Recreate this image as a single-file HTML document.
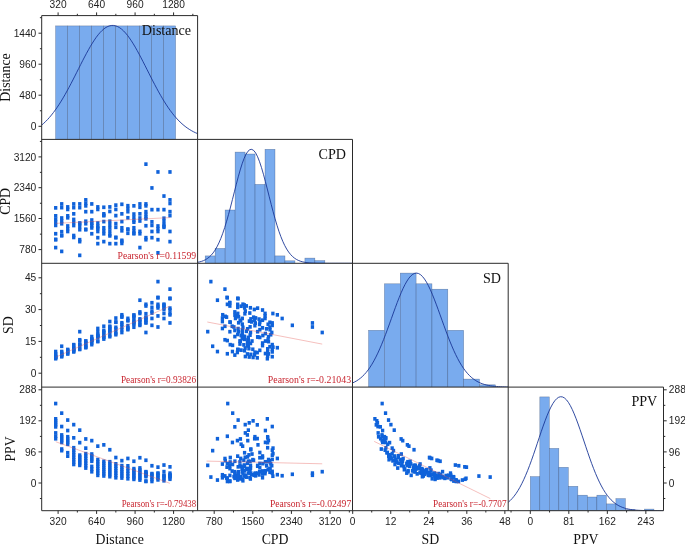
<!DOCTYPE html>
<html lang="en"><head><meta charset="utf-8"><title>Scatter matrix</title>
<style>
html,body{margin:0;padding:0;background:#fff;}
body{width:685px;height:545px;overflow:hidden;}
svg{display:block;}
.tk text{font-family:"Liberation Sans",Arial,sans-serif;font-size:10.2px;fill:#1e1e1e;}
.ax text{font-family:"Liberation Serif","Times New Roman",serif;font-size:13.8px;fill:#111;}
.pl{font-family:"Liberation Serif","Times New Roman",serif;font-size:14.1px;fill:#111;}
.pr{font-family:"Liberation Serif","Times New Roman",serif;font-size:9.7px;fill:#c8242e;}
</style></head><body>
<svg width="685" height="545" viewBox="0 0 685 545">
<rect width="685" height="545" fill="#fff"/>
<defs>
<clipPath id="c00"><rect x="41.7" y="15.6" width="155.89999999999998" height="123.80000000000001"/></clipPath>
<clipPath id="c10"><rect x="41.7" y="139.4" width="155.89999999999998" height="123.9"/></clipPath>
<clipPath id="c11"><rect x="197.6" y="139.4" width="154.9" height="123.9"/></clipPath>
<clipPath id="c20"><rect x="41.7" y="263.3" width="155.89999999999998" height="123.80000000000001"/></clipPath>
<clipPath id="c21"><rect x="197.6" y="263.3" width="154.9" height="123.80000000000001"/></clipPath>
<clipPath id="c22"><rect x="352.5" y="263.3" width="155.7" height="123.80000000000001"/></clipPath>
<clipPath id="c30"><rect x="41.7" y="387.1" width="155.89999999999998" height="123.59999999999997"/></clipPath>
<clipPath id="c31"><rect x="197.6" y="387.1" width="154.9" height="123.59999999999997"/></clipPath>
<clipPath id="c32"><rect x="352.5" y="387.1" width="155.7" height="123.59999999999997"/></clipPath>
<clipPath id="c33"><rect x="508.2" y="387.1" width="155.3" height="123.59999999999997"/></clipPath>
</defs>
<g clip-path="url(#c00)">
<g fill="#79abee" stroke="#1d3158" stroke-opacity="0.5" stroke-width="0.5">
<rect x="55.60" y="25.90" width="12.00" height="113.50"/>
<rect x="67.60" y="25.90" width="12.00" height="113.50"/>
<rect x="79.60" y="25.90" width="12.00" height="113.50"/>
<rect x="91.60" y="25.90" width="12.00" height="113.50"/>
<rect x="103.60" y="25.90" width="12.00" height="113.50"/>
<rect x="115.60" y="25.90" width="12.00" height="113.50"/>
<rect x="127.60" y="25.90" width="12.00" height="113.50"/>
<rect x="139.60" y="25.90" width="12.00" height="113.50"/>
<rect x="151.60" y="25.90" width="12.00" height="113.50"/>
<rect x="163.60" y="25.90" width="12.00" height="113.50"/>
</g>
<path d="M41.70,125.09 L43.65,123.39 L45.60,121.54 L47.55,119.54 L49.50,117.38 L51.44,115.06 L53.39,112.59 L55.34,109.95 L57.29,107.16 L59.24,104.22 L61.19,101.12 L63.14,97.89 L65.09,94.52 L67.03,91.03 L68.98,87.43 L70.93,83.74 L72.88,79.97 L74.83,76.15 L76.78,72.29 L78.73,68.42 L80.67,64.56 L82.62,60.73 L84.57,56.98 L86.52,53.31 L88.47,49.76 L90.42,46.36 L92.37,43.13 L94.32,40.10 L96.26,37.29 L98.21,34.74 L100.16,32.45 L102.11,30.46 L104.06,28.78 L106.01,27.43 L107.96,26.41 L109.91,25.74 L111.86,25.43 L113.80,25.47 L115.75,25.87 L117.70,26.62 L119.65,27.72 L121.60,29.15 L123.55,30.90 L125.50,32.97 L127.44,35.31 L129.39,37.93 L131.34,40.79 L133.29,43.87 L135.24,47.14 L137.19,50.58 L139.14,54.16 L141.09,57.85 L143.03,61.63 L144.98,65.46 L146.93,69.33 L148.88,73.20 L150.83,77.05 L152.78,80.86 L154.73,84.61 L156.68,88.28 L158.62,91.86 L160.57,95.32 L162.52,98.66 L164.47,101.86 L166.42,104.92 L168.37,107.83 L170.32,110.59 L172.27,113.18 L174.21,115.62 L176.16,117.90 L178.11,120.02 L180.06,121.99 L182.01,123.80 L183.96,125.47 L185.91,127.00 L187.86,128.40 L189.80,129.67 L191.75,130.82 L193.70,131.86 L195.65,132.79 L197.60,133.63" fill="none" stroke="#1a3796" stroke-width="0.9"/>
<text x="191.1" y="35.0" text-anchor="end" class="pl">Distance</text>
</g>
<g clip-path="url(#c11)">
<g fill="#79abee" stroke="#1d3158" stroke-opacity="0.5" stroke-width="0.5">
<rect x="205.20" y="255.90" width="9.97" height="7.40"/>
<rect x="215.17" y="248.40" width="9.97" height="14.90"/>
<rect x="225.14" y="210.00" width="9.97" height="53.30"/>
<rect x="235.11" y="152.10" width="9.97" height="111.20"/>
<rect x="245.08" y="154.00" width="9.97" height="109.30"/>
<rect x="255.05" y="184.40" width="9.97" height="78.90"/>
<rect x="265.02" y="149.30" width="9.97" height="114.00"/>
<rect x="274.99" y="255.90" width="9.97" height="7.40"/>
<rect x="284.96" y="260.80" width="9.97" height="2.50"/>
<rect x="304.90" y="258.10" width="9.97" height="5.20"/>
<rect x="314.87" y="260.60" width="9.97" height="2.70"/>
</g>
<path d="M197.60,262.31 L199.54,261.91 L201.47,261.38 L203.41,260.68 L205.34,259.76 L207.28,258.59 L209.22,257.09 L211.15,255.23 L213.09,252.94 L215.03,250.17 L216.96,246.85 L218.90,242.95 L220.84,238.43 L222.77,233.29 L224.71,227.53 L226.64,221.19 L228.58,214.33 L230.52,207.06 L232.45,199.50 L234.39,191.82 L236.32,184.19 L238.26,176.84 L240.20,169.96 L242.13,163.77 L244.07,158.48 L246.01,154.27 L247.94,151.28 L249.88,149.63 L251.81,149.37 L253.75,150.52 L255.69,153.03 L257.62,156.81 L259.56,161.73 L261.50,167.61 L263.43,174.26 L265.37,181.47 L267.31,189.02 L269.24,196.70 L271.18,204.33 L273.11,211.72 L275.05,218.74 L276.99,225.28 L278.92,231.26 L280.86,236.63 L282.80,241.38 L284.73,245.50 L286.67,249.02 L288.60,251.99 L290.54,254.45 L292.48,256.46 L294.41,258.08 L296.35,259.37 L298.28,260.37 L300.22,261.15 L302.16,261.74 L304.09,262.18 L306.03,262.50 L307.97,262.74 L309.90,262.92 L311.84,263.04 L313.77,263.12 L315.71,263.18 L317.65,263.22 L319.58,263.25 L321.52,263.27 L323.46,263.28 L325.39,263.29 L327.33,263.29 L329.26,263.30 L331.20,263.30 L333.14,263.30 L335.07,263.30 L337.01,263.30 L338.95,263.30 L340.88,263.30 L342.82,263.30 L344.75,263.30 L346.69,263.30 L348.63,263.30 L350.56,263.30 L352.50,263.30" fill="none" stroke="#1a3796" stroke-width="0.9"/>
<text x="346" y="159.4" text-anchor="end" class="pl">CPD</text>
</g>
<g clip-path="url(#c22)">
<g fill="#79abee" stroke="#1d3158" stroke-opacity="0.5" stroke-width="0.5">
<rect x="368.55" y="330.30" width="15.85" height="56.80"/>
<rect x="384.40" y="283.80" width="15.85" height="103.30"/>
<rect x="400.25" y="273.10" width="15.85" height="114.00"/>
<rect x="416.10" y="283.80" width="15.85" height="103.30"/>
<rect x="431.95" y="289.20" width="15.85" height="97.90"/>
<rect x="447.80" y="330.30" width="15.85" height="56.80"/>
<rect x="463.65" y="379.10" width="15.85" height="8.00"/>
<rect x="479.50" y="384.80" width="15.85" height="2.30"/>
</g>
<path d="M352.50,382.98 L354.45,382.07 L356.39,381.00 L358.34,379.74 L360.29,378.29 L362.23,376.61 L364.18,374.68 L366.12,372.50 L368.07,370.03 L370.02,367.27 L371.96,364.21 L373.91,360.83 L375.86,357.14 L377.80,353.15 L379.75,348.85 L381.69,344.28 L383.64,339.46 L385.59,334.42 L387.53,329.20 L389.48,323.86 L391.43,318.44 L393.37,313.03 L395.32,307.67 L397.26,302.45 L399.21,297.44 L401.16,292.72 L403.10,288.36 L405.05,284.44 L407.00,281.01 L408.94,278.14 L410.89,275.88 L412.83,274.27 L414.78,273.34 L416.73,273.11 L418.67,273.58 L420.62,274.74 L422.56,276.57 L424.51,279.04 L426.46,282.10 L428.40,285.70 L430.35,289.78 L432.30,294.27 L434.24,299.10 L436.19,304.18 L438.13,309.45 L440.08,314.84 L442.03,320.26 L443.97,325.66 L445.92,330.96 L447.87,336.13 L449.81,341.10 L451.76,345.84 L453.70,350.32 L455.65,354.52 L457.60,358.41 L459.54,362.00 L461.49,365.27 L463.44,368.23 L465.38,370.89 L467.33,373.26 L469.27,375.36 L471.22,377.20 L473.17,378.80 L475.11,380.18 L477.06,381.38 L479.01,382.39 L480.95,383.25 L482.90,383.97 L484.84,384.57 L486.79,385.07 L488.74,385.48 L490.68,385.82 L492.63,386.09 L494.58,386.31 L496.52,386.48 L498.47,386.62 L500.41,386.73 L502.36,386.82 L504.31,386.89 L506.25,386.94 L508.20,386.98" fill="none" stroke="#1a3796" stroke-width="0.9"/>
<text x="501" y="283.2" text-anchor="end" class="pl">SD</text>
</g>
<g clip-path="url(#c33)">
<g fill="#79abee" stroke="#1d3158" stroke-opacity="0.5" stroke-width="0.5">
<rect x="530.30" y="476.60" width="9.51" height="34.10"/>
<rect x="539.81" y="396.90" width="9.51" height="113.80"/>
<rect x="549.32" y="448.40" width="9.51" height="62.30"/>
<rect x="558.83" y="467.30" width="9.51" height="43.40"/>
<rect x="568.34" y="486.30" width="9.51" height="24.40"/>
<rect x="577.85" y="495.20" width="9.51" height="15.50"/>
<rect x="587.36" y="497.00" width="9.51" height="13.70"/>
<rect x="596.87" y="495.20" width="9.51" height="15.50"/>
<rect x="606.38" y="503.90" width="9.51" height="6.80"/>
<rect x="615.89" y="498.60" width="9.51" height="12.10"/>
<rect x="625.40" y="509.60" width="9.51" height="1.10"/>
<rect x="644.42" y="509.10" width="9.51" height="1.60"/>
</g>
<path d="M508.20,502.34 L510.14,500.60 L512.08,498.59 L514.02,496.28 L515.97,493.66 L517.91,490.69 L519.85,487.38 L521.79,483.71 L523.73,479.68 L525.67,475.30 L527.61,470.59 L529.55,465.57 L531.50,460.28 L533.44,454.76 L535.38,449.08 L537.32,443.29 L539.26,437.49 L541.20,431.74 L543.14,426.15 L545.08,420.79 L547.02,415.76 L548.97,411.17 L550.91,407.08 L552.85,403.58 L554.79,400.75 L556.73,398.63 L558.67,397.28 L560.61,396.72 L562.55,396.96 L564.50,398.00 L566.44,399.81 L568.38,402.37 L570.32,405.61 L572.26,409.47 L574.20,413.88 L576.14,418.74 L578.09,423.98 L580.03,429.49 L581.97,435.19 L583.91,440.98 L585.85,446.78 L587.79,452.51 L589.73,458.10 L591.67,463.49 L593.62,468.62 L595.56,473.46 L597.50,477.98 L599.44,482.15 L601.38,485.96 L603.32,489.42 L605.26,492.52 L607.20,495.28 L609.14,497.71 L611.09,499.83 L613.03,501.68 L614.97,503.26 L616.91,504.61 L618.85,505.75 L620.79,506.70 L622.73,507.49 L624.67,508.15 L626.62,508.68 L628.56,509.12 L630.50,509.47 L632.44,509.74 L634.38,509.97 L636.32,510.14 L638.26,510.28 L640.21,510.38 L642.15,510.46 L644.09,510.52 L646.03,510.57 L647.97,510.60 L649.91,510.63 L651.85,510.65 L653.79,510.66 L655.74,510.67 L657.68,510.68 L659.62,510.69 L661.56,510.69 L663.50,510.69" fill="none" stroke="#1a3796" stroke-width="0.9"/>
<text x="657.3" y="406.4" text-anchor="end" class="pl">PPV</text>
</g>
<g clip-path="url(#c10)">
<g fill="#0f62da">
<rect x="54.04" y="206.02" width="3.3" height="3.7"/>
<rect x="54.04" y="217.35" width="3.3" height="3.7"/>
<rect x="54.04" y="220.45" width="3.3" height="3.7"/>
<rect x="54.04" y="214.01" width="3.3" height="3.7"/>
<rect x="54.04" y="231.90" width="3.3" height="3.7"/>
<rect x="54.04" y="223.55" width="3.3" height="3.7"/>
<rect x="54.04" y="237.86" width="3.3" height="3.7"/>
<rect x="54.04" y="245.74" width="3.3" height="3.7"/>
<rect x="54.04" y="237.55" width="3.3" height="3.7"/>
<rect x="60.06" y="202.09" width="3.3" height="3.7"/>
<rect x="60.06" y="221.88" width="3.3" height="3.7"/>
<rect x="60.06" y="205.78" width="3.3" height="3.7"/>
<rect x="60.06" y="216.16" width="3.3" height="3.7"/>
<rect x="60.06" y="229.87" width="3.3" height="3.7"/>
<rect x="60.06" y="233.81" width="3.3" height="3.7"/>
<rect x="60.06" y="219.14" width="3.3" height="3.7"/>
<rect x="60.06" y="249.55" width="3.3" height="3.7"/>
<rect x="60.06" y="233.61" width="3.3" height="3.7"/>
<rect x="66.07" y="207.57" width="3.3" height="3.7"/>
<rect x="66.07" y="215.92" width="3.3" height="3.7"/>
<rect x="66.07" y="214.01" width="3.3" height="3.7"/>
<rect x="66.07" y="205.07" width="3.3" height="3.7"/>
<rect x="66.07" y="226.89" width="3.3" height="3.7"/>
<rect x="66.07" y="224.15" width="3.3" height="3.7"/>
<rect x="66.07" y="229.64" width="3.3" height="3.7"/>
<rect x="72.09" y="205.78" width="3.3" height="3.7"/>
<rect x="72.09" y="202.09" width="3.3" height="3.7"/>
<rect x="72.09" y="211.99" width="3.3" height="3.7"/>
<rect x="72.09" y="220.69" width="3.3" height="3.7"/>
<rect x="72.09" y="223.67" width="3.3" height="3.7"/>
<rect x="72.09" y="217.59" width="3.3" height="3.7"/>
<rect x="72.09" y="235.60" width="3.3" height="3.7"/>
<rect x="72.09" y="233.69" width="3.3" height="3.7"/>
<rect x="78.10" y="205.78" width="3.3" height="3.7"/>
<rect x="78.10" y="202.09" width="3.3" height="3.7"/>
<rect x="78.10" y="221.76" width="3.3" height="3.7"/>
<rect x="78.10" y="239.77" width="3.3" height="3.7"/>
<rect x="78.10" y="224.75" width="3.3" height="3.7"/>
<rect x="78.10" y="227.85" width="3.3" height="3.7"/>
<rect x="78.10" y="237.86" width="3.3" height="3.7"/>
<rect x="78.10" y="253.49" width="3.3" height="3.7"/>
<rect x="78.10" y="221.14" width="3.3" height="3.7"/>
<rect x="84.12" y="201.49" width="3.3" height="3.7"/>
<rect x="84.12" y="209.84" width="3.3" height="3.7"/>
<rect x="84.12" y="198.03" width="3.3" height="3.7"/>
<rect x="84.12" y="203.99" width="3.3" height="3.7"/>
<rect x="84.12" y="221.88" width="3.3" height="3.7"/>
<rect x="84.12" y="227.85" width="3.3" height="3.7"/>
<rect x="84.12" y="219.38" width="3.3" height="3.7"/>
<rect x="84.12" y="227.45" width="3.3" height="3.7"/>
<rect x="90.13" y="218.19" width="3.3" height="3.7"/>
<rect x="90.13" y="209.84" width="3.3" height="3.7"/>
<rect x="90.13" y="202.09" width="3.3" height="3.7"/>
<rect x="90.13" y="221.17" width="3.3" height="3.7"/>
<rect x="90.13" y="224.15" width="3.3" height="3.7"/>
<rect x="90.13" y="226.06" width="3.3" height="3.7"/>
<rect x="90.13" y="231.90" width="3.3" height="3.7"/>
<rect x="90.13" y="221.60" width="3.3" height="3.7"/>
<rect x="96.15" y="205.07" width="3.3" height="3.7"/>
<rect x="96.15" y="207.57" width="3.3" height="3.7"/>
<rect x="96.15" y="241.80" width="3.3" height="3.7"/>
<rect x="96.15" y="226.89" width="3.3" height="3.7"/>
<rect x="96.15" y="235.84" width="3.3" height="3.7"/>
<rect x="96.15" y="224.15" width="3.3" height="3.7"/>
<rect x="96.15" y="221.17" width="3.3" height="3.7"/>
<rect x="96.15" y="229.64" width="3.3" height="3.7"/>
<rect x="96.15" y="225.66" width="3.3" height="3.7"/>
<rect x="102.16" y="219.74" width="3.3" height="3.7"/>
<rect x="102.16" y="211.99" width="3.3" height="3.7"/>
<rect x="102.16" y="213.77" width="3.3" height="3.7"/>
<rect x="102.16" y="225.94" width="3.3" height="3.7"/>
<rect x="102.16" y="205.43" width="3.3" height="3.7"/>
<rect x="102.16" y="228.92" width="3.3" height="3.7"/>
<rect x="102.16" y="231.90" width="3.3" height="3.7"/>
<rect x="102.16" y="239.77" width="3.3" height="3.7"/>
<rect x="102.16" y="213.46" width="3.3" height="3.7"/>
<rect x="108.18" y="205.07" width="3.3" height="3.7"/>
<rect x="108.18" y="209.60" width="3.3" height="3.7"/>
<rect x="108.18" y="219.38" width="3.3" height="3.7"/>
<rect x="108.18" y="225.94" width="3.3" height="3.7"/>
<rect x="108.18" y="222.72" width="3.3" height="3.7"/>
<rect x="108.18" y="234.05" width="3.3" height="3.7"/>
<rect x="108.18" y="229.28" width="3.3" height="3.7"/>
<rect x="108.18" y="241.80" width="3.3" height="3.7"/>
<rect x="108.18" y="232.62" width="3.3" height="3.7"/>
<rect x="114.19" y="203.28" width="3.3" height="3.7"/>
<rect x="114.19" y="213.77" width="3.3" height="3.7"/>
<rect x="114.19" y="221.76" width="3.3" height="3.7"/>
<rect x="114.19" y="207.57" width="3.3" height="3.7"/>
<rect x="114.19" y="225.46" width="3.3" height="3.7"/>
<rect x="114.19" y="235.84" width="3.3" height="3.7"/>
<rect x="114.19" y="241.80" width="3.3" height="3.7"/>
<rect x="114.19" y="235.52" width="3.3" height="3.7"/>
<rect x="120.21" y="202.44" width="3.3" height="3.7"/>
<rect x="120.21" y="211.99" width="3.3" height="3.7"/>
<rect x="120.21" y="219.74" width="3.3" height="3.7"/>
<rect x="120.21" y="225.94" width="3.3" height="3.7"/>
<rect x="120.21" y="228.92" width="3.3" height="3.7"/>
<rect x="120.21" y="241.56" width="3.3" height="3.7"/>
<rect x="120.21" y="238.46" width="3.3" height="3.7"/>
<rect x="120.21" y="239.48" width="3.3" height="3.7"/>
<rect x="126.22" y="206.62" width="3.3" height="3.7"/>
<rect x="126.22" y="203.88" width="3.3" height="3.7"/>
<rect x="126.22" y="209.84" width="3.3" height="3.7"/>
<rect x="126.22" y="215.92" width="3.3" height="3.7"/>
<rect x="126.22" y="231.42" width="3.3" height="3.7"/>
<rect x="126.22" y="227.73" width="3.3" height="3.7"/>
<rect x="126.22" y="227.21" width="3.3" height="3.7"/>
<rect x="132.24" y="203.99" width="3.3" height="3.7"/>
<rect x="132.24" y="220.33" width="3.3" height="3.7"/>
<rect x="132.24" y="212.22" width="3.3" height="3.7"/>
<rect x="132.24" y="215.56" width="3.3" height="3.7"/>
<rect x="132.24" y="218.54" width="3.3" height="3.7"/>
<rect x="132.24" y="228.92" width="3.3" height="3.7"/>
<rect x="132.24" y="231.42" width="3.3" height="3.7"/>
<rect x="132.24" y="225.94" width="3.3" height="3.7"/>
<rect x="132.24" y="231.85" width="3.3" height="3.7"/>
<rect x="138.25" y="211.99" width="3.3" height="3.7"/>
<rect x="138.25" y="205.43" width="3.3" height="3.7"/>
<rect x="138.25" y="202.09" width="3.3" height="3.7"/>
<rect x="138.25" y="219.14" width="3.3" height="3.7"/>
<rect x="138.25" y="216.16" width="3.3" height="3.7"/>
<rect x="138.25" y="229.52" width="3.3" height="3.7"/>
<rect x="138.25" y="231.90" width="3.3" height="3.7"/>
<rect x="138.25" y="245.74" width="3.3" height="3.7"/>
<rect x="144.27" y="162.30" width="3.3" height="3.7"/>
<rect x="144.27" y="203.99" width="3.3" height="3.7"/>
<rect x="144.27" y="202.09" width="3.3" height="3.7"/>
<rect x="144.27" y="209.84" width="3.3" height="3.7"/>
<rect x="144.27" y="212.58" width="3.3" height="3.7"/>
<rect x="144.27" y="215.32" width="3.3" height="3.7"/>
<rect x="144.27" y="223.91" width="3.3" height="3.7"/>
<rect x="144.27" y="235.84" width="3.3" height="3.7"/>
<rect x="144.27" y="237.86" width="3.3" height="3.7"/>
<rect x="144.27" y="216.96" width="3.3" height="3.7"/>
<rect x="150.28" y="186.10" width="3.3" height="3.7"/>
<rect x="150.28" y="207.81" width="3.3" height="3.7"/>
<rect x="150.28" y="223.55" width="3.3" height="3.7"/>
<rect x="150.28" y="219.98" width="3.3" height="3.7"/>
<rect x="150.28" y="229.64" width="3.3" height="3.7"/>
<rect x="150.28" y="235.84" width="3.3" height="3.7"/>
<rect x="156.30" y="170.10" width="3.3" height="3.7"/>
<rect x="156.30" y="207.81" width="3.3" height="3.7"/>
<rect x="156.30" y="224.15" width="3.3" height="3.7"/>
<rect x="156.30" y="226.89" width="3.3" height="3.7"/>
<rect x="156.30" y="237.86" width="3.3" height="3.7"/>
<rect x="156.30" y="229.64" width="3.3" height="3.7"/>
<rect x="156.30" y="250.98" width="3.3" height="3.7"/>
<rect x="162.31" y="207.81" width="3.3" height="3.7"/>
<rect x="162.31" y="194.20" width="3.3" height="3.7"/>
<rect x="162.31" y="216.40" width="3.3" height="3.7"/>
<rect x="162.31" y="222.72" width="3.3" height="3.7"/>
<rect x="162.31" y="219.50" width="3.3" height="3.7"/>
<rect x="162.31" y="225.46" width="3.3" height="3.7"/>
<rect x="162.31" y="224.38" width="3.3" height="3.7"/>
<rect x="168.33" y="170.10" width="3.3" height="3.7"/>
<rect x="168.33" y="213.77" width="3.3" height="3.7"/>
<rect x="168.33" y="198.03" width="3.3" height="3.7"/>
<rect x="168.33" y="201.61" width="3.3" height="3.7"/>
<rect x="168.33" y="209.84" width="3.3" height="3.7"/>
<rect x="168.33" y="229.64" width="3.3" height="3.7"/>
<rect x="168.33" y="239.77" width="3.3" height="3.7"/>
</g>
<line x1="55.7" y1="223.4" x2="169.9" y2="217.6" stroke="#e2504c" stroke-width="0.5" stroke-opacity="0.72"/>
<text x="117.5" y="258.8" textLength="78.6" lengthAdjust="spacingAndGlyphs" class="pr">Pearson's r=0.11599</text>
</g>
<g clip-path="url(#c20)">
<g fill="#0f62da">
<rect x="54.04" y="356.86" width="3.3" height="3.7"/>
<rect x="54.04" y="355.55" width="3.3" height="3.7"/>
<rect x="54.04" y="355.13" width="3.3" height="3.7"/>
<rect x="54.04" y="355.97" width="3.3" height="3.7"/>
<rect x="54.04" y="353.22" width="3.3" height="3.7"/>
<rect x="54.04" y="354.67" width="3.3" height="3.7"/>
<rect x="54.04" y="351.92" width="3.3" height="3.7"/>
<rect x="54.04" y="349.70" width="3.3" height="3.7"/>
<rect x="60.06" y="354.84" width="3.3" height="3.7"/>
<rect x="60.06" y="352.13" width="3.3" height="3.7"/>
<rect x="60.06" y="354.42" width="3.3" height="3.7"/>
<rect x="60.06" y="353.04" width="3.3" height="3.7"/>
<rect x="60.06" y="350.59" width="3.3" height="3.7"/>
<rect x="60.06" y="349.69" width="3.3" height="3.7"/>
<rect x="60.06" y="352.58" width="3.3" height="3.7"/>
<rect x="60.06" y="344.41" width="3.3" height="3.7"/>
<rect x="66.07" y="351.70" width="3.3" height="3.7"/>
<rect x="66.07" y="350.41" width="3.3" height="3.7"/>
<rect x="66.07" y="352.04" width="3.3" height="3.7"/>
<rect x="66.07" y="348.28" width="3.3" height="3.7"/>
<rect x="66.07" y="348.87" width="3.3" height="3.7"/>
<rect x="66.07" y="347.63" width="3.3" height="3.7"/>
<rect x="72.09" y="349.48" width="3.3" height="3.7"/>
<rect x="72.09" y="350.02" width="3.3" height="3.7"/>
<rect x="72.09" y="348.47" width="3.3" height="3.7"/>
<rect x="72.09" y="346.79" width="3.3" height="3.7"/>
<rect x="72.09" y="346.13" width="3.3" height="3.7"/>
<rect x="72.09" y="347.43" width="3.3" height="3.7"/>
<rect x="72.09" y="342.82" width="3.3" height="3.7"/>
<rect x="72.09" y="343.43" width="3.3" height="3.7"/>
<rect x="78.10" y="347.01" width="3.3" height="3.7"/>
<rect x="78.10" y="347.61" width="3.3" height="3.7"/>
<rect x="78.10" y="343.77" width="3.3" height="3.7"/>
<rect x="78.10" y="337.94" width="3.3" height="3.7"/>
<rect x="78.10" y="343.01" width="3.3" height="3.7"/>
<rect x="78.10" y="342.15" width="3.3" height="3.7"/>
<rect x="78.10" y="338.73" width="3.3" height="3.7"/>
<rect x="78.10" y="329.80" width="3.3" height="3.7"/>
<rect x="84.12" y="345.30" width="3.3" height="3.7"/>
<rect x="84.12" y="343.75" width="3.3" height="3.7"/>
<rect x="84.12" y="345.87" width="3.3" height="3.7"/>
<rect x="84.12" y="344.86" width="3.3" height="3.7"/>
<rect x="84.12" y="340.94" width="3.3" height="3.7"/>
<rect x="84.12" y="339.19" width="3.3" height="3.7"/>
<rect x="84.12" y="341.59" width="3.3" height="3.7"/>
<rect x="84.12" y="339.32" width="3.3" height="3.7"/>
<rect x="90.13" y="339.18" width="3.3" height="3.7"/>
<rect x="90.13" y="341.21" width="3.3" height="3.7"/>
<rect x="90.13" y="342.79" width="3.3" height="3.7"/>
<rect x="90.13" y="338.35" width="3.3" height="3.7"/>
<rect x="90.13" y="337.46" width="3.3" height="3.7"/>
<rect x="90.13" y="336.84" width="3.3" height="3.7"/>
<rect x="90.13" y="334.74" width="3.3" height="3.7"/>
<rect x="90.13" y="338.23" width="3.3" height="3.7"/>
<rect x="96.15" y="339.76" width="3.3" height="3.7"/>
<rect x="96.15" y="339.20" width="3.3" height="3.7"/>
<rect x="96.15" y="326.63" width="3.3" height="3.7"/>
<rect x="96.15" y="333.64" width="3.3" height="3.7"/>
<rect x="96.15" y="329.87" width="3.3" height="3.7"/>
<rect x="96.15" y="334.60" width="3.3" height="3.7"/>
<rect x="96.15" y="335.57" width="3.3" height="3.7"/>
<rect x="96.15" y="332.59" width="3.3" height="3.7"/>
<rect x="96.15" y="334.08" width="3.3" height="3.7"/>
<rect x="102.16" y="333.27" width="3.3" height="3.7"/>
<rect x="102.16" y="335.56" width="3.3" height="3.7"/>
<rect x="102.16" y="335.07" width="3.3" height="3.7"/>
<rect x="102.16" y="331.08" width="3.3" height="3.7"/>
<rect x="102.16" y="337.21" width="3.3" height="3.7"/>
<rect x="102.16" y="329.88" width="3.3" height="3.7"/>
<rect x="102.16" y="328.58" width="3.3" height="3.7"/>
<rect x="102.16" y="324.43" width="3.3" height="3.7"/>
<rect x="108.18" y="334.84" width="3.3" height="3.7"/>
<rect x="108.18" y="333.65" width="3.3" height="3.7"/>
<rect x="108.18" y="330.65" width="3.3" height="3.7"/>
<rect x="108.18" y="328.18" width="3.3" height="3.7"/>
<rect x="108.18" y="329.44" width="3.3" height="3.7"/>
<rect x="108.18" y="324.40" width="3.3" height="3.7"/>
<rect x="108.18" y="326.74" width="3.3" height="3.7"/>
<rect x="108.18" y="319.69" width="3.3" height="3.7"/>
<rect x="108.18" y="325.14" width="3.3" height="3.7"/>
<rect x="114.19" y="332.85" width="3.3" height="3.7"/>
<rect x="114.19" y="329.84" width="3.3" height="3.7"/>
<rect x="114.19" y="327.00" width="3.3" height="3.7"/>
<rect x="114.19" y="331.70" width="3.3" height="3.7"/>
<rect x="114.19" y="325.48" width="3.3" height="3.7"/>
<rect x="114.19" y="320.21" width="3.3" height="3.7"/>
<rect x="114.19" y="316.23" width="3.3" height="3.7"/>
<rect x="114.19" y="320.40" width="3.3" height="3.7"/>
<rect x="120.21" y="330.65" width="3.3" height="3.7"/>
<rect x="120.21" y="327.82" width="3.3" height="3.7"/>
<rect x="120.21" y="325.03" width="3.3" height="3.7"/>
<rect x="120.21" y="322.37" width="3.3" height="3.7"/>
<rect x="120.21" y="320.92" width="3.3" height="3.7"/>
<rect x="120.21" y="312.95" width="3.3" height="3.7"/>
<rect x="120.21" y="315.25" width="3.3" height="3.7"/>
<rect x="120.21" y="314.52" width="3.3" height="3.7"/>
<rect x="126.22" y="327.00" width="3.3" height="3.7"/>
<rect x="126.22" y="327.82" width="3.3" height="3.7"/>
<rect x="126.22" y="325.97" width="3.3" height="3.7"/>
<rect x="126.22" y="323.81" width="3.3" height="3.7"/>
<rect x="126.22" y="316.54" width="3.3" height="3.7"/>
<rect x="126.22" y="318.57" width="3.3" height="3.7"/>
<rect x="126.22" y="318.83" width="3.3" height="3.7"/>
<rect x="132.24" y="325.35" width="3.3" height="3.7"/>
<rect x="132.24" y="319.28" width="3.3" height="3.7"/>
<rect x="132.24" y="322.57" width="3.3" height="3.7"/>
<rect x="132.24" y="321.29" width="3.3" height="3.7"/>
<rect x="132.24" y="320.06" width="3.3" height="3.7"/>
<rect x="132.24" y="314.95" width="3.3" height="3.7"/>
<rect x="132.24" y="313.47" width="3.3" height="3.7"/>
<rect x="132.24" y="316.57" width="3.3" height="3.7"/>
<rect x="132.24" y="313.21" width="3.3" height="3.7"/>
<rect x="138.25" y="320.08" width="3.3" height="3.7"/>
<rect x="138.25" y="322.44" width="3.3" height="3.7"/>
<rect x="138.25" y="323.52" width="3.3" height="3.7"/>
<rect x="138.25" y="317.07" width="3.3" height="3.7"/>
<rect x="138.25" y="318.39" width="3.3" height="3.7"/>
<rect x="138.25" y="311.60" width="3.3" height="3.7"/>
<rect x="138.25" y="310.10" width="3.3" height="3.7"/>
<rect x="138.25" y="298.35" width="3.3" height="3.7"/>
<rect x="144.27" y="330.64" width="3.3" height="3.7"/>
<rect x="144.27" y="320.47" width="3.3" height="3.7"/>
<rect x="144.27" y="321.11" width="3.3" height="3.7"/>
<rect x="144.27" y="318.34" width="3.3" height="3.7"/>
<rect x="144.27" y="317.25" width="3.3" height="3.7"/>
<rect x="144.27" y="316.09" width="3.3" height="3.7"/>
<rect x="144.27" y="311.90" width="3.3" height="3.7"/>
<rect x="144.27" y="304.12" width="3.3" height="3.7"/>
<rect x="144.27" y="302.47" width="3.3" height="3.7"/>
<rect x="144.27" y="315.36" width="3.3" height="3.7"/>
<rect x="150.28" y="323.48" width="3.3" height="3.7"/>
<rect x="150.28" y="316.61" width="3.3" height="3.7"/>
<rect x="150.28" y="309.26" width="3.3" height="3.7"/>
<rect x="150.28" y="311.18" width="3.3" height="3.7"/>
<rect x="150.28" y="305.51" width="3.3" height="3.7"/>
<rect x="150.28" y="300.90" width="3.3" height="3.7"/>
<rect x="156.30" y="325.15" width="3.3" height="3.7"/>
<rect x="156.30" y="314.10" width="3.3" height="3.7"/>
<rect x="156.30" y="306.06" width="3.3" height="3.7"/>
<rect x="156.30" y="304.35" width="3.3" height="3.7"/>
<rect x="156.30" y="295.88" width="3.3" height="3.7"/>
<rect x="156.30" y="302.50" width="3.3" height="3.7"/>
<rect x="156.30" y="279.76" width="3.3" height="3.7"/>
<rect x="156.30" y="295.60" width="3.3" height="3.7"/>
<rect x="162.31" y="311.60" width="3.3" height="3.7"/>
<rect x="162.31" y="316.64" width="3.3" height="3.7"/>
<rect x="162.31" y="307.60" width="3.3" height="3.7"/>
<rect x="162.31" y="304.09" width="3.3" height="3.7"/>
<rect x="162.31" y="305.95" width="3.3" height="3.7"/>
<rect x="162.31" y="302.37" width="3.3" height="3.7"/>
<rect x="162.31" y="303.07" width="3.3" height="3.7"/>
<rect x="168.33" y="321.10" width="3.3" height="3.7"/>
<rect x="168.33" y="306.29" width="3.3" height="3.7"/>
<rect x="168.33" y="313.00" width="3.3" height="3.7"/>
<rect x="168.33" y="311.66" width="3.3" height="3.7"/>
<rect x="168.33" y="308.18" width="3.3" height="3.7"/>
<rect x="168.33" y="296.49" width="3.3" height="3.7"/>
<rect x="168.33" y="287.30" width="3.3" height="3.7"/>
<rect x="168.33" y="296.77" width="3.3" height="3.7"/>
</g>
<line x1="55.7" y1="357.2" x2="169.9" y2="306.1" stroke="#e2504c" stroke-width="0.5" stroke-opacity="0.72"/>
<text x="120.9" y="382.8" textLength="75.2" lengthAdjust="spacingAndGlyphs" class="pr">Pearson's r=0.93826</text>
</g>
<g clip-path="url(#c30)">
<g fill="#0f62da">
<rect x="54.04" y="417.00" width="3.3" height="3.7"/>
<rect x="54.04" y="419.00" width="3.3" height="3.7"/>
<rect x="54.04" y="421.00" width="3.3" height="3.7"/>
<rect x="54.04" y="423.00" width="3.3" height="3.7"/>
<rect x="54.04" y="425.00" width="3.3" height="3.7"/>
<rect x="54.04" y="431.10" width="3.3" height="3.7"/>
<rect x="54.04" y="434.40" width="3.3" height="3.7"/>
<rect x="54.04" y="436.90" width="3.3" height="3.7"/>
<rect x="54.04" y="401.70" width="3.3" height="3.7"/>
<rect x="60.06" y="424.70" width="3.3" height="3.7"/>
<rect x="60.06" y="433.10" width="3.3" height="3.7"/>
<rect x="60.06" y="434.98" width="3.3" height="3.7"/>
<rect x="60.06" y="436.85" width="3.3" height="3.7"/>
<rect x="60.06" y="438.73" width="3.3" height="3.7"/>
<rect x="60.06" y="440.60" width="3.3" height="3.7"/>
<rect x="60.06" y="447.20" width="3.3" height="3.7"/>
<rect x="60.06" y="448.80" width="3.3" height="3.7"/>
<rect x="60.06" y="411.30" width="3.3" height="3.7"/>
<rect x="66.07" y="428.70" width="3.3" height="3.7"/>
<rect x="66.07" y="434.90" width="3.3" height="3.7"/>
<rect x="66.07" y="436.77" width="3.3" height="3.7"/>
<rect x="66.07" y="438.65" width="3.3" height="3.7"/>
<rect x="66.07" y="440.52" width="3.3" height="3.7"/>
<rect x="66.07" y="442.40" width="3.3" height="3.7"/>
<rect x="66.07" y="450.90" width="3.3" height="3.7"/>
<rect x="66.07" y="454.30" width="3.3" height="3.7"/>
<rect x="66.07" y="418.20" width="3.3" height="3.7"/>
<rect x="72.09" y="436.00" width="3.3" height="3.7"/>
<rect x="72.09" y="445.90" width="3.3" height="3.7"/>
<rect x="72.09" y="448.29" width="3.3" height="3.7"/>
<rect x="72.09" y="450.67" width="3.3" height="3.7"/>
<rect x="72.09" y="453.06" width="3.3" height="3.7"/>
<rect x="72.09" y="455.44" width="3.3" height="3.7"/>
<rect x="72.09" y="457.83" width="3.3" height="3.7"/>
<rect x="72.09" y="460.21" width="3.3" height="3.7"/>
<rect x="72.09" y="462.60" width="3.3" height="3.7"/>
<rect x="72.09" y="422.80" width="3.3" height="3.7"/>
<rect x="78.10" y="440.80" width="3.3" height="3.7"/>
<rect x="78.10" y="453.30" width="3.3" height="3.7"/>
<rect x="78.10" y="455.00" width="3.3" height="3.7"/>
<rect x="78.10" y="456.70" width="3.3" height="3.7"/>
<rect x="78.10" y="458.40" width="3.3" height="3.7"/>
<rect x="78.10" y="460.10" width="3.3" height="3.7"/>
<rect x="78.10" y="461.80" width="3.3" height="3.7"/>
<rect x="78.10" y="463.50" width="3.3" height="3.7"/>
<rect x="78.10" y="428.30" width="3.3" height="3.7"/>
<rect x="84.12" y="446.30" width="3.3" height="3.7"/>
<rect x="84.12" y="451.80" width="3.3" height="3.7"/>
<rect x="84.12" y="454.20" width="3.3" height="3.7"/>
<rect x="84.12" y="456.60" width="3.3" height="3.7"/>
<rect x="84.12" y="459.00" width="3.3" height="3.7"/>
<rect x="84.12" y="461.40" width="3.3" height="3.7"/>
<rect x="84.12" y="463.80" width="3.3" height="3.7"/>
<rect x="84.12" y="466.20" width="3.3" height="3.7"/>
<rect x="84.12" y="437.10" width="3.3" height="3.7"/>
<rect x="90.13" y="452.20" width="3.3" height="3.7"/>
<rect x="90.13" y="454.00" width="3.3" height="3.7"/>
<rect x="90.13" y="455.80" width="3.3" height="3.7"/>
<rect x="90.13" y="457.60" width="3.3" height="3.7"/>
<rect x="90.13" y="459.40" width="3.3" height="3.7"/>
<rect x="90.13" y="464.60" width="3.3" height="3.7"/>
<rect x="90.13" y="467.25" width="3.3" height="3.7"/>
<rect x="90.13" y="469.90" width="3.3" height="3.7"/>
<rect x="90.13" y="438.80" width="3.3" height="3.7"/>
<rect x="96.15" y="457.70" width="3.3" height="3.7"/>
<rect x="96.15" y="459.96" width="3.3" height="3.7"/>
<rect x="96.15" y="462.21" width="3.3" height="3.7"/>
<rect x="96.15" y="464.47" width="3.3" height="3.7"/>
<rect x="96.15" y="466.73" width="3.3" height="3.7"/>
<rect x="96.15" y="468.99" width="3.3" height="3.7"/>
<rect x="96.15" y="471.24" width="3.3" height="3.7"/>
<rect x="96.15" y="473.50" width="3.3" height="3.7"/>
<rect x="96.15" y="444.30" width="3.3" height="3.7"/>
<rect x="102.16" y="459.50" width="3.3" height="3.7"/>
<rect x="102.16" y="461.59" width="3.3" height="3.7"/>
<rect x="102.16" y="463.67" width="3.3" height="3.7"/>
<rect x="102.16" y="465.76" width="3.3" height="3.7"/>
<rect x="102.16" y="467.84" width="3.3" height="3.7"/>
<rect x="102.16" y="469.93" width="3.3" height="3.7"/>
<rect x="102.16" y="472.01" width="3.3" height="3.7"/>
<rect x="102.16" y="474.10" width="3.3" height="3.7"/>
<rect x="102.16" y="443.00" width="3.3" height="3.7"/>
<rect x="108.18" y="459.90" width="3.3" height="3.7"/>
<rect x="108.18" y="461.76" width="3.3" height="3.7"/>
<rect x="108.18" y="463.62" width="3.3" height="3.7"/>
<rect x="108.18" y="465.49" width="3.3" height="3.7"/>
<rect x="108.18" y="467.35" width="3.3" height="3.7"/>
<rect x="108.18" y="469.21" width="3.3" height="3.7"/>
<rect x="108.18" y="471.07" width="3.3" height="3.7"/>
<rect x="108.18" y="472.94" width="3.3" height="3.7"/>
<rect x="108.18" y="474.80" width="3.3" height="3.7"/>
<rect x="108.18" y="447.90" width="3.3" height="3.7"/>
<rect x="114.19" y="462.00" width="3.3" height="3.7"/>
<rect x="114.19" y="464.32" width="3.3" height="3.7"/>
<rect x="114.19" y="466.63" width="3.3" height="3.7"/>
<rect x="114.19" y="468.95" width="3.3" height="3.7"/>
<rect x="114.19" y="471.27" width="3.3" height="3.7"/>
<rect x="114.19" y="473.58" width="3.3" height="3.7"/>
<rect x="114.19" y="475.90" width="3.3" height="3.7"/>
<rect x="114.19" y="455.70" width="3.3" height="3.7"/>
<rect x="120.21" y="463.80" width="3.3" height="3.7"/>
<rect x="120.21" y="465.87" width="3.3" height="3.7"/>
<rect x="120.21" y="467.93" width="3.3" height="3.7"/>
<rect x="120.21" y="470.00" width="3.3" height="3.7"/>
<rect x="120.21" y="472.07" width="3.3" height="3.7"/>
<rect x="120.21" y="474.13" width="3.3" height="3.7"/>
<rect x="120.21" y="476.20" width="3.3" height="3.7"/>
<rect x="120.21" y="458.80" width="3.3" height="3.7"/>
<rect x="126.22" y="464.00" width="3.3" height="3.7"/>
<rect x="126.22" y="466.58" width="3.3" height="3.7"/>
<rect x="126.22" y="469.16" width="3.3" height="3.7"/>
<rect x="126.22" y="471.74" width="3.3" height="3.7"/>
<rect x="126.22" y="474.32" width="3.3" height="3.7"/>
<rect x="126.22" y="476.90" width="3.3" height="3.7"/>
<rect x="126.22" y="456.60" width="3.3" height="3.7"/>
<rect x="132.24" y="466.80" width="3.3" height="3.7"/>
<rect x="132.24" y="468.33" width="3.3" height="3.7"/>
<rect x="132.24" y="469.86" width="3.3" height="3.7"/>
<rect x="132.24" y="471.39" width="3.3" height="3.7"/>
<rect x="132.24" y="472.91" width="3.3" height="3.7"/>
<rect x="132.24" y="474.44" width="3.3" height="3.7"/>
<rect x="132.24" y="475.97" width="3.3" height="3.7"/>
<rect x="132.24" y="477.50" width="3.3" height="3.7"/>
<rect x="132.24" y="459.40" width="3.3" height="3.7"/>
<rect x="138.25" y="466.10" width="3.3" height="3.7"/>
<rect x="138.25" y="467.83" width="3.3" height="3.7"/>
<rect x="138.25" y="469.56" width="3.3" height="3.7"/>
<rect x="138.25" y="471.29" width="3.3" height="3.7"/>
<rect x="138.25" y="473.01" width="3.3" height="3.7"/>
<rect x="138.25" y="474.74" width="3.3" height="3.7"/>
<rect x="138.25" y="476.47" width="3.3" height="3.7"/>
<rect x="138.25" y="478.20" width="3.3" height="3.7"/>
<rect x="138.25" y="455.90" width="3.3" height="3.7"/>
<rect x="144.27" y="469.84" width="3.3" height="3.7"/>
<rect x="144.27" y="470.38" width="3.3" height="3.7"/>
<rect x="144.27" y="471.27" width="3.3" height="3.7"/>
<rect x="144.27" y="472.15" width="3.3" height="3.7"/>
<rect x="144.27" y="473.03" width="3.3" height="3.7"/>
<rect x="144.27" y="473.92" width="3.3" height="3.7"/>
<rect x="144.27" y="474.80" width="3.3" height="3.7"/>
<rect x="144.27" y="479.20" width="3.3" height="3.7"/>
<rect x="144.27" y="479.60" width="3.3" height="3.7"/>
<rect x="144.27" y="458.40" width="3.3" height="3.7"/>
<rect x="150.28" y="472.43" width="3.3" height="3.7"/>
<rect x="150.28" y="471.76" width="3.3" height="3.7"/>
<rect x="150.28" y="473.72" width="3.3" height="3.7"/>
<rect x="150.28" y="475.68" width="3.3" height="3.7"/>
<rect x="150.28" y="477.64" width="3.3" height="3.7"/>
<rect x="150.28" y="479.60" width="3.3" height="3.7"/>
<rect x="150.28" y="463.90" width="3.3" height="3.7"/>
<rect x="156.30" y="471.29" width="3.3" height="3.7"/>
<rect x="156.30" y="471.77" width="3.3" height="3.7"/>
<rect x="156.30" y="473.33" width="3.3" height="3.7"/>
<rect x="156.30" y="474.90" width="3.3" height="3.7"/>
<rect x="156.30" y="476.47" width="3.3" height="3.7"/>
<rect x="156.30" y="478.03" width="3.3" height="3.7"/>
<rect x="156.30" y="465.30" width="3.3" height="3.7"/>
<rect x="162.31" y="469.80" width="3.3" height="3.7"/>
<rect x="162.31" y="473.89" width="3.3" height="3.7"/>
<rect x="162.31" y="473.44" width="3.3" height="3.7"/>
<rect x="162.31" y="475.26" width="3.3" height="3.7"/>
<rect x="162.31" y="477.08" width="3.3" height="3.7"/>
<rect x="162.31" y="478.90" width="3.3" height="3.7"/>
<rect x="162.31" y="463.20" width="3.3" height="3.7"/>
<rect x="168.33" y="473.40" width="3.3" height="3.7"/>
<rect x="168.33" y="471.32" width="3.3" height="3.7"/>
<rect x="168.33" y="472.83" width="3.3" height="3.7"/>
<rect x="168.33" y="474.35" width="3.3" height="3.7"/>
<rect x="168.33" y="475.87" width="3.3" height="3.7"/>
<rect x="168.33" y="477.38" width="3.3" height="3.7"/>
<rect x="168.33" y="474.21" width="3.3" height="3.7"/>
<rect x="168.33" y="465.00" width="3.3" height="3.7"/>
</g>
<line x1="55.7" y1="441.7" x2="169.9" y2="483.3" stroke="#e2504c" stroke-width="0.5" stroke-opacity="0.72"/>
<text x="121.7" y="506.8" textLength="74.4" lengthAdjust="spacingAndGlyphs" class="pr">Pearson's r=-0.79438</text>
</g>
<g clip-path="url(#c21)">
<g fill="#0f62da">
<rect x="265.68" y="356.86" width="3.3" height="3.7"/>
<rect x="251.45" y="355.55" width="3.3" height="3.7"/>
<rect x="247.56" y="355.13" width="3.3" height="3.7"/>
<rect x="255.64" y="355.97" width="3.3" height="3.7"/>
<rect x="233.18" y="353.22" width="3.3" height="3.7"/>
<rect x="243.66" y="354.67" width="3.3" height="3.7"/>
<rect x="225.69" y="351.92" width="3.3" height="3.7"/>
<rect x="215.81" y="349.70" width="3.3" height="3.7"/>
<rect x="270.62" y="354.84" width="3.3" height="3.7"/>
<rect x="245.76" y="352.13" width="3.3" height="3.7"/>
<rect x="265.98" y="354.42" width="3.3" height="3.7"/>
<rect x="252.95" y="353.04" width="3.3" height="3.7"/>
<rect x="235.73" y="350.59" width="3.3" height="3.7"/>
<rect x="230.79" y="349.69" width="3.3" height="3.7"/>
<rect x="249.21" y="352.58" width="3.3" height="3.7"/>
<rect x="211.02" y="344.41" width="3.3" height="3.7"/>
<rect x="263.73" y="351.70" width="3.3" height="3.7"/>
<rect x="253.25" y="350.41" width="3.3" height="3.7"/>
<rect x="255.64" y="350.73" width="3.3" height="3.7"/>
<rect x="266.88" y="352.04" width="3.3" height="3.7"/>
<rect x="239.47" y="348.28" width="3.3" height="3.7"/>
<rect x="242.92" y="348.87" width="3.3" height="3.7"/>
<rect x="236.03" y="347.63" width="3.3" height="3.7"/>
<rect x="236.50" y="347.72" width="3.3" height="3.7"/>
<rect x="265.98" y="349.48" width="3.3" height="3.7"/>
<rect x="270.62" y="350.02" width="3.3" height="3.7"/>
<rect x="258.19" y="348.47" width="3.3" height="3.7"/>
<rect x="247.26" y="346.79" width="3.3" height="3.7"/>
<rect x="243.51" y="346.13" width="3.3" height="3.7"/>
<rect x="251.15" y="347.43" width="3.3" height="3.7"/>
<rect x="228.54" y="342.82" width="3.3" height="3.7"/>
<rect x="230.94" y="343.43" width="3.3" height="3.7"/>
<rect x="265.98" y="347.01" width="3.3" height="3.7"/>
<rect x="270.62" y="347.61" width="3.3" height="3.7"/>
<rect x="245.91" y="343.77" width="3.3" height="3.7"/>
<rect x="223.30" y="337.94" width="3.3" height="3.7"/>
<rect x="242.17" y="343.01" width="3.3" height="3.7"/>
<rect x="238.27" y="342.15" width="3.3" height="3.7"/>
<rect x="225.69" y="338.73" width="3.3" height="3.7"/>
<rect x="206.08" y="329.80" width="3.3" height="3.7"/>
<rect x="246.70" y="343.92" width="3.3" height="3.7"/>
<rect x="271.37" y="345.30" width="3.3" height="3.7"/>
<rect x="260.89" y="343.75" width="3.3" height="3.7"/>
<rect x="275.71" y="345.87" width="3.3" height="3.7"/>
<rect x="268.22" y="344.86" width="3.3" height="3.7"/>
<rect x="245.76" y="340.94" width="3.3" height="3.7"/>
<rect x="238.27" y="339.19" width="3.3" height="3.7"/>
<rect x="248.91" y="341.59" width="3.3" height="3.7"/>
<rect x="238.77" y="339.32" width="3.3" height="3.7"/>
<rect x="250.40" y="339.18" width="3.3" height="3.7"/>
<rect x="260.89" y="341.21" width="3.3" height="3.7"/>
<rect x="270.62" y="342.79" width="3.3" height="3.7"/>
<rect x="246.66" y="338.35" width="3.3" height="3.7"/>
<rect x="242.92" y="337.46" width="3.3" height="3.7"/>
<rect x="240.52" y="336.84" width="3.3" height="3.7"/>
<rect x="233.18" y="334.74" width="3.3" height="3.7"/>
<rect x="246.12" y="338.23" width="3.3" height="3.7"/>
<rect x="266.88" y="339.76" width="3.3" height="3.7"/>
<rect x="263.73" y="339.20" width="3.3" height="3.7"/>
<rect x="220.75" y="326.63" width="3.3" height="3.7"/>
<rect x="239.47" y="333.64" width="3.3" height="3.7"/>
<rect x="228.24" y="329.87" width="3.3" height="3.7"/>
<rect x="242.92" y="334.60" width="3.3" height="3.7"/>
<rect x="246.66" y="335.57" width="3.3" height="3.7"/>
<rect x="236.03" y="332.59" width="3.3" height="3.7"/>
<rect x="241.02" y="334.08" width="3.3" height="3.7"/>
<rect x="248.46" y="333.27" width="3.3" height="3.7"/>
<rect x="258.19" y="335.56" width="3.3" height="3.7"/>
<rect x="255.94" y="335.07" width="3.3" height="3.7"/>
<rect x="240.67" y="331.08" width="3.3" height="3.7"/>
<rect x="266.43" y="337.21" width="3.3" height="3.7"/>
<rect x="236.93" y="329.88" width="3.3" height="3.7"/>
<rect x="233.18" y="328.58" width="3.3" height="3.7"/>
<rect x="223.30" y="324.43" width="3.3" height="3.7"/>
<rect x="256.33" y="335.16" width="3.3" height="3.7"/>
<rect x="266.88" y="334.84" width="3.3" height="3.7"/>
<rect x="261.19" y="333.65" width="3.3" height="3.7"/>
<rect x="248.91" y="330.65" width="3.3" height="3.7"/>
<rect x="240.67" y="328.18" width="3.3" height="3.7"/>
<rect x="244.71" y="329.44" width="3.3" height="3.7"/>
<rect x="230.49" y="324.40" width="3.3" height="3.7"/>
<rect x="236.48" y="326.74" width="3.3" height="3.7"/>
<rect x="220.75" y="319.69" width="3.3" height="3.7"/>
<rect x="232.28" y="325.14" width="3.3" height="3.7"/>
<rect x="269.12" y="332.85" width="3.3" height="3.7"/>
<rect x="255.94" y="329.84" width="3.3" height="3.7"/>
<rect x="245.91" y="327.00" width="3.3" height="3.7"/>
<rect x="263.73" y="331.70" width="3.3" height="3.7"/>
<rect x="241.27" y="325.48" width="3.3" height="3.7"/>
<rect x="228.24" y="320.21" width="3.3" height="3.7"/>
<rect x="220.75" y="316.23" width="3.3" height="3.7"/>
<rect x="228.64" y="320.40" width="3.3" height="3.7"/>
<rect x="270.17" y="330.65" width="3.3" height="3.7"/>
<rect x="258.19" y="327.82" width="3.3" height="3.7"/>
<rect x="248.46" y="325.03" width="3.3" height="3.7"/>
<rect x="240.67" y="322.37" width="3.3" height="3.7"/>
<rect x="236.93" y="320.92" width="3.3" height="3.7"/>
<rect x="221.05" y="312.95" width="3.3" height="3.7"/>
<rect x="224.95" y="315.25" width="3.3" height="3.7"/>
<rect x="223.67" y="314.52" width="3.3" height="3.7"/>
<rect x="264.93" y="327.00" width="3.3" height="3.7"/>
<rect x="268.37" y="327.82" width="3.3" height="3.7"/>
<rect x="260.89" y="325.97" width="3.3" height="3.7"/>
<rect x="253.25" y="323.81" width="3.3" height="3.7"/>
<rect x="233.78" y="316.54" width="3.3" height="3.7"/>
<rect x="238.42" y="318.57" width="3.3" height="3.7"/>
<rect x="239.07" y="318.83" width="3.3" height="3.7"/>
<rect x="268.22" y="325.35" width="3.3" height="3.7"/>
<rect x="247.71" y="319.28" width="3.3" height="3.7"/>
<rect x="257.89" y="322.57" width="3.3" height="3.7"/>
<rect x="253.70" y="321.29" width="3.3" height="3.7"/>
<rect x="249.95" y="320.06" width="3.3" height="3.7"/>
<rect x="236.93" y="314.95" width="3.3" height="3.7"/>
<rect x="233.78" y="313.47" width="3.3" height="3.7"/>
<rect x="240.67" y="316.57" width="3.3" height="3.7"/>
<rect x="233.25" y="313.21" width="3.3" height="3.7"/>
<rect x="258.19" y="320.08" width="3.3" height="3.7"/>
<rect x="266.43" y="322.44" width="3.3" height="3.7"/>
<rect x="270.62" y="323.52" width="3.3" height="3.7"/>
<rect x="249.21" y="317.07" width="3.3" height="3.7"/>
<rect x="252.95" y="318.39" width="3.3" height="3.7"/>
<rect x="236.18" y="311.60" width="3.3" height="3.7"/>
<rect x="233.18" y="310.10" width="3.3" height="3.7"/>
<rect x="215.81" y="298.35" width="3.3" height="3.7"/>
<rect x="320.58" y="330.64" width="3.3" height="3.7"/>
<rect x="268.22" y="320.47" width="3.3" height="3.7"/>
<rect x="270.62" y="321.11" width="3.3" height="3.7"/>
<rect x="260.89" y="318.34" width="3.3" height="3.7"/>
<rect x="257.44" y="317.25" width="3.3" height="3.7"/>
<rect x="254.00" y="316.09" width="3.3" height="3.7"/>
<rect x="243.22" y="311.90" width="3.3" height="3.7"/>
<rect x="228.24" y="304.12" width="3.3" height="3.7"/>
<rect x="225.69" y="302.47" width="3.3" height="3.7"/>
<rect x="251.95" y="315.36" width="3.3" height="3.7"/>
<rect x="290.69" y="323.48" width="3.3" height="3.7"/>
<rect x="263.43" y="316.61" width="3.3" height="3.7"/>
<rect x="243.66" y="309.26" width="3.3" height="3.7"/>
<rect x="248.16" y="311.18" width="3.3" height="3.7"/>
<rect x="236.03" y="305.51" width="3.3" height="3.7"/>
<rect x="228.24" y="300.90" width="3.3" height="3.7"/>
<rect x="228.02" y="300.76" width="3.3" height="3.7"/>
<rect x="310.79" y="325.15" width="3.3" height="3.7"/>
<rect x="263.43" y="314.10" width="3.3" height="3.7"/>
<rect x="242.92" y="306.06" width="3.3" height="3.7"/>
<rect x="239.47" y="304.35" width="3.3" height="3.7"/>
<rect x="225.69" y="295.88" width="3.3" height="3.7"/>
<rect x="236.03" y="302.50" width="3.3" height="3.7"/>
<rect x="209.22" y="279.76" width="3.3" height="3.7"/>
<rect x="225.32" y="295.60" width="3.3" height="3.7"/>
<rect x="263.43" y="311.60" width="3.3" height="3.7"/>
<rect x="280.52" y="316.64" width="3.3" height="3.7"/>
<rect x="252.65" y="307.60" width="3.3" height="3.7"/>
<rect x="244.71" y="304.09" width="3.3" height="3.7"/>
<rect x="248.76" y="305.95" width="3.3" height="3.7"/>
<rect x="241.27" y="302.37" width="3.3" height="3.7"/>
<rect x="242.63" y="303.07" width="3.3" height="3.7"/>
<rect x="310.79" y="321.10" width="3.3" height="3.7"/>
<rect x="255.94" y="306.29" width="3.3" height="3.7"/>
<rect x="275.71" y="313.00" width="3.3" height="3.7"/>
<rect x="271.22" y="311.66" width="3.3" height="3.7"/>
<rect x="260.89" y="308.18" width="3.3" height="3.7"/>
<rect x="236.03" y="296.49" width="3.3" height="3.7"/>
<rect x="223.30" y="287.30" width="3.3" height="3.7"/>
<rect x="236.50" y="296.77" width="3.3" height="3.7"/>
</g>
<line x1="207.3" y1="322.0" x2="322.2" y2="344.1" stroke="#e2504c" stroke-width="0.5" stroke-opacity="0.72"/>
<text x="267.8" y="382.8" textLength="83.3" lengthAdjust="spacingAndGlyphs" class="pr">Pearson's r=-0.21043</text>
</g>
<g clip-path="url(#c31)">
<g fill="#0f62da">
<rect x="265.68" y="417.00" width="3.3" height="3.7"/>
<rect x="251.45" y="419.00" width="3.3" height="3.7"/>
<rect x="247.56" y="421.00" width="3.3" height="3.7"/>
<rect x="255.64" y="423.00" width="3.3" height="3.7"/>
<rect x="233.18" y="425.00" width="3.3" height="3.7"/>
<rect x="243.66" y="431.10" width="3.3" height="3.7"/>
<rect x="225.69" y="434.40" width="3.3" height="3.7"/>
<rect x="215.81" y="436.90" width="3.3" height="3.7"/>
<rect x="226.09" y="401.70" width="3.3" height="3.7"/>
<rect x="270.62" y="424.70" width="3.3" height="3.7"/>
<rect x="245.76" y="433.10" width="3.3" height="3.7"/>
<rect x="265.98" y="434.98" width="3.3" height="3.7"/>
<rect x="252.95" y="436.85" width="3.3" height="3.7"/>
<rect x="235.73" y="438.73" width="3.3" height="3.7"/>
<rect x="230.79" y="440.60" width="3.3" height="3.7"/>
<rect x="249.21" y="447.20" width="3.3" height="3.7"/>
<rect x="211.02" y="448.80" width="3.3" height="3.7"/>
<rect x="231.04" y="411.30" width="3.3" height="3.7"/>
<rect x="263.73" y="428.70" width="3.3" height="3.7"/>
<rect x="253.25" y="434.90" width="3.3" height="3.7"/>
<rect x="255.64" y="436.77" width="3.3" height="3.7"/>
<rect x="266.88" y="438.65" width="3.3" height="3.7"/>
<rect x="263.73" y="440.52" width="3.3" height="3.7"/>
<rect x="239.47" y="442.40" width="3.3" height="3.7"/>
<rect x="242.92" y="450.90" width="3.3" height="3.7"/>
<rect x="236.03" y="454.30" width="3.3" height="3.7"/>
<rect x="236.50" y="418.20" width="3.3" height="3.7"/>
<rect x="265.98" y="436.00" width="3.3" height="3.7"/>
<rect x="265.98" y="445.90" width="3.3" height="3.7"/>
<rect x="270.62" y="448.29" width="3.3" height="3.7"/>
<rect x="258.19" y="450.67" width="3.3" height="3.7"/>
<rect x="247.26" y="453.06" width="3.3" height="3.7"/>
<rect x="243.51" y="455.44" width="3.3" height="3.7"/>
<rect x="251.15" y="457.83" width="3.3" height="3.7"/>
<rect x="228.54" y="460.21" width="3.3" height="3.7"/>
<rect x="230.94" y="462.60" width="3.3" height="3.7"/>
<rect x="243.58" y="422.80" width="3.3" height="3.7"/>
<rect x="265.98" y="440.80" width="3.3" height="3.7"/>
<rect x="270.62" y="453.30" width="3.3" height="3.7"/>
<rect x="245.91" y="455.00" width="3.3" height="3.7"/>
<rect x="223.30" y="456.70" width="3.3" height="3.7"/>
<rect x="242.17" y="458.40" width="3.3" height="3.7"/>
<rect x="238.27" y="460.10" width="3.3" height="3.7"/>
<rect x="225.69" y="461.80" width="3.3" height="3.7"/>
<rect x="206.08" y="463.50" width="3.3" height="3.7"/>
<rect x="246.70" y="428.30" width="3.3" height="3.7"/>
<rect x="271.37" y="446.30" width="3.3" height="3.7"/>
<rect x="271.37" y="451.80" width="3.3" height="3.7"/>
<rect x="260.89" y="454.20" width="3.3" height="3.7"/>
<rect x="275.71" y="456.60" width="3.3" height="3.7"/>
<rect x="268.22" y="459.00" width="3.3" height="3.7"/>
<rect x="245.76" y="461.40" width="3.3" height="3.7"/>
<rect x="238.27" y="463.80" width="3.3" height="3.7"/>
<rect x="248.91" y="466.20" width="3.3" height="3.7"/>
<rect x="238.77" y="437.10" width="3.3" height="3.7"/>
<rect x="250.40" y="452.20" width="3.3" height="3.7"/>
<rect x="260.89" y="455.80" width="3.3" height="3.7"/>
<rect x="270.62" y="457.60" width="3.3" height="3.7"/>
<rect x="246.66" y="459.40" width="3.3" height="3.7"/>
<rect x="242.92" y="464.60" width="3.3" height="3.7"/>
<rect x="240.52" y="467.25" width="3.3" height="3.7"/>
<rect x="233.18" y="469.90" width="3.3" height="3.7"/>
<rect x="246.12" y="438.80" width="3.3" height="3.7"/>
<rect x="266.88" y="457.70" width="3.3" height="3.7"/>
<rect x="263.73" y="459.96" width="3.3" height="3.7"/>
<rect x="220.75" y="462.21" width="3.3" height="3.7"/>
<rect x="239.47" y="464.47" width="3.3" height="3.7"/>
<rect x="228.24" y="466.73" width="3.3" height="3.7"/>
<rect x="242.92" y="468.99" width="3.3" height="3.7"/>
<rect x="246.66" y="471.24" width="3.3" height="3.7"/>
<rect x="236.03" y="473.50" width="3.3" height="3.7"/>
<rect x="241.02" y="444.30" width="3.3" height="3.7"/>
<rect x="248.46" y="459.50" width="3.3" height="3.7"/>
<rect x="258.19" y="461.59" width="3.3" height="3.7"/>
<rect x="255.94" y="463.67" width="3.3" height="3.7"/>
<rect x="240.67" y="465.76" width="3.3" height="3.7"/>
<rect x="266.43" y="467.84" width="3.3" height="3.7"/>
<rect x="236.93" y="469.93" width="3.3" height="3.7"/>
<rect x="233.18" y="472.01" width="3.3" height="3.7"/>
<rect x="223.30" y="474.10" width="3.3" height="3.7"/>
<rect x="256.33" y="443.00" width="3.3" height="3.7"/>
<rect x="266.88" y="459.90" width="3.3" height="3.7"/>
<rect x="261.19" y="461.76" width="3.3" height="3.7"/>
<rect x="248.91" y="463.62" width="3.3" height="3.7"/>
<rect x="240.67" y="465.49" width="3.3" height="3.7"/>
<rect x="244.71" y="467.35" width="3.3" height="3.7"/>
<rect x="230.49" y="469.21" width="3.3" height="3.7"/>
<rect x="236.48" y="471.07" width="3.3" height="3.7"/>
<rect x="220.75" y="472.94" width="3.3" height="3.7"/>
<rect x="232.28" y="474.80" width="3.3" height="3.7"/>
<rect x="249.06" y="447.90" width="3.3" height="3.7"/>
<rect x="269.12" y="462.00" width="3.3" height="3.7"/>
<rect x="255.94" y="464.32" width="3.3" height="3.7"/>
<rect x="245.91" y="466.63" width="3.3" height="3.7"/>
<rect x="263.73" y="468.95" width="3.3" height="3.7"/>
<rect x="241.27" y="471.27" width="3.3" height="3.7"/>
<rect x="228.24" y="473.58" width="3.3" height="3.7"/>
<rect x="220.75" y="475.90" width="3.3" height="3.7"/>
<rect x="228.64" y="455.70" width="3.3" height="3.7"/>
<rect x="270.17" y="463.80" width="3.3" height="3.7"/>
<rect x="258.19" y="465.87" width="3.3" height="3.7"/>
<rect x="248.46" y="467.93" width="3.3" height="3.7"/>
<rect x="240.67" y="470.00" width="3.3" height="3.7"/>
<rect x="236.93" y="472.07" width="3.3" height="3.7"/>
<rect x="221.05" y="474.13" width="3.3" height="3.7"/>
<rect x="224.95" y="476.20" width="3.3" height="3.7"/>
<rect x="223.67" y="458.80" width="3.3" height="3.7"/>
<rect x="264.93" y="464.00" width="3.3" height="3.7"/>
<rect x="268.37" y="466.58" width="3.3" height="3.7"/>
<rect x="260.89" y="469.16" width="3.3" height="3.7"/>
<rect x="253.25" y="471.74" width="3.3" height="3.7"/>
<rect x="233.78" y="474.32" width="3.3" height="3.7"/>
<rect x="238.42" y="476.90" width="3.3" height="3.7"/>
<rect x="239.07" y="456.60" width="3.3" height="3.7"/>
<rect x="268.22" y="466.80" width="3.3" height="3.7"/>
<rect x="247.71" y="468.33" width="3.3" height="3.7"/>
<rect x="257.89" y="469.86" width="3.3" height="3.7"/>
<rect x="253.70" y="471.39" width="3.3" height="3.7"/>
<rect x="249.95" y="472.91" width="3.3" height="3.7"/>
<rect x="236.93" y="474.44" width="3.3" height="3.7"/>
<rect x="233.78" y="475.97" width="3.3" height="3.7"/>
<rect x="240.67" y="477.50" width="3.3" height="3.7"/>
<rect x="233.25" y="459.40" width="3.3" height="3.7"/>
<rect x="270.62" y="469.56" width="3.3" height="3.7"/>
<rect x="249.21" y="471.29" width="3.3" height="3.7"/>
<rect x="252.95" y="473.01" width="3.3" height="3.7"/>
<rect x="236.18" y="474.74" width="3.3" height="3.7"/>
<rect x="233.18" y="476.47" width="3.3" height="3.7"/>
<rect x="215.81" y="478.20" width="3.3" height="3.7"/>
<rect x="258.14" y="455.90" width="3.3" height="3.7"/>
<rect x="320.58" y="469.84" width="3.3" height="3.7"/>
<rect x="268.22" y="470.38" width="3.3" height="3.7"/>
<rect x="270.62" y="471.27" width="3.3" height="3.7"/>
<rect x="260.89" y="472.15" width="3.3" height="3.7"/>
<rect x="257.44" y="473.03" width="3.3" height="3.7"/>
<rect x="254.00" y="473.92" width="3.3" height="3.7"/>
<rect x="243.22" y="474.80" width="3.3" height="3.7"/>
<rect x="228.24" y="479.20" width="3.3" height="3.7"/>
<rect x="225.69" y="479.60" width="3.3" height="3.7"/>
<rect x="251.95" y="458.40" width="3.3" height="3.7"/>
<rect x="290.69" y="472.43" width="3.3" height="3.7"/>
<rect x="263.43" y="471.76" width="3.3" height="3.7"/>
<rect x="243.66" y="473.72" width="3.3" height="3.7"/>
<rect x="248.16" y="475.68" width="3.3" height="3.7"/>
<rect x="236.03" y="477.64" width="3.3" height="3.7"/>
<rect x="228.24" y="479.60" width="3.3" height="3.7"/>
<rect x="228.02" y="463.90" width="3.3" height="3.7"/>
<rect x="310.79" y="471.29" width="3.3" height="3.7"/>
<rect x="242.92" y="473.33" width="3.3" height="3.7"/>
<rect x="239.47" y="474.90" width="3.3" height="3.7"/>
<rect x="225.69" y="476.47" width="3.3" height="3.7"/>
<rect x="236.03" y="478.03" width="3.3" height="3.7"/>
<rect x="209.22" y="475.21" width="3.3" height="3.7"/>
<rect x="225.32" y="465.30" width="3.3" height="3.7"/>
<rect x="263.43" y="469.80" width="3.3" height="3.7"/>
<rect x="280.52" y="473.89" width="3.3" height="3.7"/>
<rect x="252.65" y="473.44" width="3.3" height="3.7"/>
<rect x="244.71" y="475.26" width="3.3" height="3.7"/>
<rect x="248.76" y="477.08" width="3.3" height="3.7"/>
<rect x="241.27" y="478.90" width="3.3" height="3.7"/>
<rect x="242.63" y="463.20" width="3.3" height="3.7"/>
<rect x="310.79" y="473.40" width="3.3" height="3.7"/>
<rect x="255.94" y="471.32" width="3.3" height="3.7"/>
<rect x="275.71" y="472.83" width="3.3" height="3.7"/>
<rect x="271.22" y="474.35" width="3.3" height="3.7"/>
<rect x="260.89" y="475.87" width="3.3" height="3.7"/>
<rect x="236.50" y="465.00" width="3.3" height="3.7"/>
</g>
<line x1="206.6" y1="461.1" x2="322.2" y2="463.8" stroke="#e2504c" stroke-width="0.5" stroke-opacity="0.72"/>
<text x="270.0" y="506.8" textLength="81.2" lengthAdjust="spacingAndGlyphs" class="pr">Pearson's r=-0.02497</text>
</g>
<g clip-path="url(#c32)">
<g fill="#0f62da">
<rect x="373.24" y="417.00" width="3.3" height="3.7"/>
<rect x="375.20" y="419.00" width="3.3" height="3.7"/>
<rect x="375.83" y="421.00" width="3.3" height="3.7"/>
<rect x="374.57" y="423.00" width="3.3" height="3.7"/>
<rect x="378.68" y="425.00" width="3.3" height="3.7"/>
<rect x="376.51" y="431.10" width="3.3" height="3.7"/>
<rect x="380.63" y="434.40" width="3.3" height="3.7"/>
<rect x="383.95" y="436.90" width="3.3" height="3.7"/>
<rect x="380.51" y="401.70" width="3.3" height="3.7"/>
<rect x="376.27" y="424.70" width="3.3" height="3.7"/>
<rect x="380.32" y="433.10" width="3.3" height="3.7"/>
<rect x="376.90" y="434.98" width="3.3" height="3.7"/>
<rect x="378.95" y="436.85" width="3.3" height="3.7"/>
<rect x="382.62" y="438.73" width="3.3" height="3.7"/>
<rect x="383.97" y="440.60" width="3.3" height="3.7"/>
<rect x="379.64" y="447.20" width="3.3" height="3.7"/>
<rect x="391.86" y="448.80" width="3.3" height="3.7"/>
<rect x="383.89" y="411.30" width="3.3" height="3.7"/>
<rect x="380.96" y="428.70" width="3.3" height="3.7"/>
<rect x="382.88" y="434.90" width="3.3" height="3.7"/>
<rect x="382.41" y="436.77" width="3.3" height="3.7"/>
<rect x="380.44" y="438.65" width="3.3" height="3.7"/>
<rect x="380.96" y="440.52" width="3.3" height="3.7"/>
<rect x="386.08" y="442.40" width="3.3" height="3.7"/>
<rect x="385.19" y="450.90" width="3.3" height="3.7"/>
<rect x="387.04" y="454.30" width="3.3" height="3.7"/>
<rect x="386.90" y="418.20" width="3.3" height="3.7"/>
<rect x="384.28" y="436.00" width="3.3" height="3.7"/>
<rect x="384.28" y="445.90" width="3.3" height="3.7"/>
<rect x="383.47" y="448.29" width="3.3" height="3.7"/>
<rect x="385.79" y="450.67" width="3.3" height="3.7"/>
<rect x="388.30" y="453.06" width="3.3" height="3.7"/>
<rect x="389.29" y="455.44" width="3.3" height="3.7"/>
<rect x="387.34" y="457.83" width="3.3" height="3.7"/>
<rect x="394.24" y="460.21" width="3.3" height="3.7"/>
<rect x="393.31" y="462.60" width="3.3" height="3.7"/>
<rect x="389.27" y="422.80" width="3.3" height="3.7"/>
<rect x="387.97" y="440.80" width="3.3" height="3.7"/>
<rect x="387.07" y="453.30" width="3.3" height="3.7"/>
<rect x="392.82" y="455.00" width="3.3" height="3.7"/>
<rect x="401.53" y="456.70" width="3.3" height="3.7"/>
<rect x="393.96" y="458.40" width="3.3" height="3.7"/>
<rect x="395.24" y="460.10" width="3.3" height="3.7"/>
<rect x="400.34" y="461.80" width="3.3" height="3.7"/>
<rect x="413.70" y="463.50" width="3.3" height="3.7"/>
<rect x="392.59" y="428.30" width="3.3" height="3.7"/>
<rect x="390.52" y="446.30" width="3.3" height="3.7"/>
<rect x="390.52" y="451.80" width="3.3" height="3.7"/>
<rect x="392.84" y="454.20" width="3.3" height="3.7"/>
<rect x="389.67" y="456.60" width="3.3" height="3.7"/>
<rect x="391.18" y="459.00" width="3.3" height="3.7"/>
<rect x="397.05" y="461.40" width="3.3" height="3.7"/>
<rect x="399.66" y="463.80" width="3.3" height="3.7"/>
<rect x="396.07" y="466.20" width="3.3" height="3.7"/>
<rect x="399.47" y="437.10" width="3.3" height="3.7"/>
<rect x="399.67" y="452.20" width="3.3" height="3.7"/>
<rect x="396.64" y="454.00" width="3.3" height="3.7"/>
<rect x="396.64" y="455.80" width="3.3" height="3.7"/>
<rect x="394.28" y="457.60" width="3.3" height="3.7"/>
<rect x="400.91" y="459.40" width="3.3" height="3.7"/>
<rect x="402.26" y="464.60" width="3.3" height="3.7"/>
<rect x="403.17" y="467.25" width="3.3" height="3.7"/>
<rect x="406.32" y="469.90" width="3.3" height="3.7"/>
<rect x="401.10" y="438.80" width="3.3" height="3.7"/>
<rect x="398.82" y="457.70" width="3.3" height="3.7"/>
<rect x="399.65" y="459.96" width="3.3" height="3.7"/>
<rect x="418.45" y="462.21" width="3.3" height="3.7"/>
<rect x="407.97" y="464.47" width="3.3" height="3.7"/>
<rect x="413.60" y="466.73" width="3.3" height="3.7"/>
<rect x="406.52" y="468.99" width="3.3" height="3.7"/>
<rect x="405.07" y="471.24" width="3.3" height="3.7"/>
<rect x="409.53" y="473.50" width="3.3" height="3.7"/>
<rect x="407.31" y="444.30" width="3.3" height="3.7"/>
<rect x="408.52" y="459.50" width="3.3" height="3.7"/>
<rect x="405.08" y="461.59" width="3.3" height="3.7"/>
<rect x="405.82" y="463.67" width="3.3" height="3.7"/>
<rect x="411.79" y="465.76" width="3.3" height="3.7"/>
<rect x="402.62" y="467.84" width="3.3" height="3.7"/>
<rect x="413.58" y="469.93" width="3.3" height="3.7"/>
<rect x="415.53" y="472.01" width="3.3" height="3.7"/>
<rect x="421.72" y="474.10" width="3.3" height="3.7"/>
<rect x="405.69" y="443.00" width="3.3" height="3.7"/>
<rect x="406.16" y="459.90" width="3.3" height="3.7"/>
<rect x="407.94" y="461.76" width="3.3" height="3.7"/>
<rect x="412.44" y="463.62" width="3.3" height="3.7"/>
<rect x="416.13" y="465.49" width="3.3" height="3.7"/>
<rect x="414.24" y="467.35" width="3.3" height="3.7"/>
<rect x="421.77" y="469.21" width="3.3" height="3.7"/>
<rect x="418.28" y="471.07" width="3.3" height="3.7"/>
<rect x="428.82" y="472.94" width="3.3" height="3.7"/>
<rect x="420.67" y="474.80" width="3.3" height="3.7"/>
<rect x="412.37" y="447.90" width="3.3" height="3.7"/>
<rect x="409.14" y="462.00" width="3.3" height="3.7"/>
<rect x="413.65" y="464.32" width="3.3" height="3.7"/>
<rect x="417.88" y="466.63" width="3.3" height="3.7"/>
<rect x="410.86" y="468.95" width="3.3" height="3.7"/>
<rect x="420.16" y="471.27" width="3.3" height="3.7"/>
<rect x="428.04" y="473.58" width="3.3" height="3.7"/>
<rect x="434.00" y="475.90" width="3.3" height="3.7"/>
<rect x="427.76" y="455.70" width="3.3" height="3.7"/>
<rect x="412.43" y="463.80" width="3.3" height="3.7"/>
<rect x="416.66" y="465.87" width="3.3" height="3.7"/>
<rect x="420.83" y="467.93" width="3.3" height="3.7"/>
<rect x="424.81" y="470.00" width="3.3" height="3.7"/>
<rect x="426.98" y="472.07" width="3.3" height="3.7"/>
<rect x="438.90" y="474.13" width="3.3" height="3.7"/>
<rect x="435.46" y="476.20" width="3.3" height="3.7"/>
<rect x="436.55" y="458.80" width="3.3" height="3.7"/>
<rect x="417.89" y="464.00" width="3.3" height="3.7"/>
<rect x="416.66" y="466.58" width="3.3" height="3.7"/>
<rect x="419.43" y="469.16" width="3.3" height="3.7"/>
<rect x="422.66" y="471.74" width="3.3" height="3.7"/>
<rect x="433.54" y="474.32" width="3.3" height="3.7"/>
<rect x="430.50" y="476.90" width="3.3" height="3.7"/>
<rect x="430.10" y="456.60" width="3.3" height="3.7"/>
<rect x="420.36" y="466.80" width="3.3" height="3.7"/>
<rect x="429.44" y="468.33" width="3.3" height="3.7"/>
<rect x="424.51" y="469.86" width="3.3" height="3.7"/>
<rect x="426.43" y="471.39" width="3.3" height="3.7"/>
<rect x="428.27" y="472.91" width="3.3" height="3.7"/>
<rect x="435.91" y="474.44" width="3.3" height="3.7"/>
<rect x="438.12" y="475.97" width="3.3" height="3.7"/>
<rect x="433.48" y="477.50" width="3.3" height="3.7"/>
<rect x="438.51" y="459.40" width="3.3" height="3.7"/>
<rect x="428.24" y="466.10" width="3.3" height="3.7"/>
<rect x="424.71" y="467.83" width="3.3" height="3.7"/>
<rect x="423.09" y="469.56" width="3.3" height="3.7"/>
<rect x="432.74" y="471.29" width="3.3" height="3.7"/>
<rect x="430.77" y="473.01" width="3.3" height="3.7"/>
<rect x="440.91" y="474.74" width="3.3" height="3.7"/>
<rect x="443.17" y="476.47" width="3.3" height="3.7"/>
<rect x="460.72" y="478.20" width="3.3" height="3.7"/>
<rect x="428.27" y="455.90" width="3.3" height="3.7"/>
<rect x="412.44" y="469.84" width="3.3" height="3.7"/>
<rect x="427.66" y="470.38" width="3.3" height="3.7"/>
<rect x="426.70" y="471.27" width="3.3" height="3.7"/>
<rect x="430.83" y="472.15" width="3.3" height="3.7"/>
<rect x="432.47" y="473.03" width="3.3" height="3.7"/>
<rect x="434.20" y="473.92" width="3.3" height="3.7"/>
<rect x="440.46" y="474.80" width="3.3" height="3.7"/>
<rect x="452.10" y="479.20" width="3.3" height="3.7"/>
<rect x="454.57" y="479.60" width="3.3" height="3.7"/>
<rect x="435.29" y="458.40" width="3.3" height="3.7"/>
<rect x="423.15" y="472.43" width="3.3" height="3.7"/>
<rect x="433.43" y="471.76" width="3.3" height="3.7"/>
<rect x="444.42" y="473.72" width="3.3" height="3.7"/>
<rect x="441.54" y="475.68" width="3.3" height="3.7"/>
<rect x="450.02" y="477.64" width="3.3" height="3.7"/>
<rect x="456.91" y="479.60" width="3.3" height="3.7"/>
<rect x="457.13" y="463.90" width="3.3" height="3.7"/>
<rect x="420.66" y="471.29" width="3.3" height="3.7"/>
<rect x="437.17" y="471.77" width="3.3" height="3.7"/>
<rect x="449.19" y="473.33" width="3.3" height="3.7"/>
<rect x="451.75" y="474.90" width="3.3" height="3.7"/>
<rect x="464.42" y="476.47" width="3.3" height="3.7"/>
<rect x="454.52" y="478.03" width="3.3" height="3.7"/>
<rect x="488.53" y="475.21" width="3.3" height="3.7"/>
<rect x="464.84" y="465.30" width="3.3" height="3.7"/>
<rect x="440.92" y="469.80" width="3.3" height="3.7"/>
<rect x="433.38" y="473.89" width="3.3" height="3.7"/>
<rect x="446.90" y="473.44" width="3.3" height="3.7"/>
<rect x="452.15" y="475.26" width="3.3" height="3.7"/>
<rect x="449.37" y="477.08" width="3.3" height="3.7"/>
<rect x="454.71" y="478.90" width="3.3" height="3.7"/>
<rect x="453.68" y="463.20" width="3.3" height="3.7"/>
<rect x="426.71" y="473.40" width="3.3" height="3.7"/>
<rect x="448.86" y="471.32" width="3.3" height="3.7"/>
<rect x="438.82" y="472.83" width="3.3" height="3.7"/>
<rect x="446.03" y="475.87" width="3.3" height="3.7"/>
<rect x="463.51" y="477.38" width="3.3" height="3.7"/>
<rect x="477.26" y="474.21" width="3.3" height="3.7"/>
<rect x="463.09" y="465.00" width="3.3" height="3.7"/>
</g>
<line x1="374.2" y1="441.4" x2="490.3" y2="498.6" stroke="#e2504c" stroke-width="0.5" stroke-opacity="0.72"/>
<text x="433.1" y="506.8" textLength="73.5" lengthAdjust="spacingAndGlyphs" class="pr">Pearson's r=-0.7707</text>
</g>
<g stroke="#2a2a2a" stroke-width="1" fill="none">
<path d="M41.7,15.6 V510.7 H663.5"/>
<path d="M41.7,15.6 H197.6 V510.7"/>
<path d="M197.6,139.4 H352.5 V510.7"/>
<path d="M41.7,139.4 H197.6"/>
<path d="M352.5,263.3 H508.2 V510.7"/>
<path d="M41.7,263.3 H352.5"/>
<path d="M508.2,387.1 H663.5 V510.7"/>
<path d="M41.7,387.1 H508.2"/>
<path d="M58.10,15.6 v-3.2"/>
<path d="M96.60,15.6 v-3.2"/>
<path d="M135.09,15.6 v-3.2"/>
<path d="M173.59,15.6 v-3.2"/>
<path d="M77.35,15.6 v-1.8"/>
<path d="M115.84,15.6 v-1.8"/>
<path d="M154.34,15.6 v-1.8"/>
<path d="M192.84,15.6 v-1.8"/>
<path d="M58.10,510.7 v3.2"/>
<path d="M96.60,510.7 v3.2"/>
<path d="M135.09,510.7 v3.2"/>
<path d="M173.59,510.7 v3.2"/>
<path d="M77.35,510.7 v1.8"/>
<path d="M115.84,510.7 v1.8"/>
<path d="M154.34,510.7 v1.8"/>
<path d="M192.84,510.7 v1.8"/>
<path d="M214.20,510.7 v3.2"/>
<path d="M252.81,510.7 v3.2"/>
<path d="M291.42,510.7 v3.2"/>
<path d="M330.03,510.7 v3.2"/>
<path d="M233.50,510.7 v1.8"/>
<path d="M272.12,510.7 v1.8"/>
<path d="M310.73,510.7 v1.8"/>
<path d="M349.34,510.7 v1.8"/>
<path d="M352.70,510.7 v3.2"/>
<path d="M390.74,510.7 v3.2"/>
<path d="M428.78,510.7 v3.2"/>
<path d="M466.82,510.7 v3.2"/>
<path d="M504.86,510.7 v3.2"/>
<path d="M371.72,510.7 v1.8"/>
<path d="M409.76,510.7 v1.8"/>
<path d="M447.80,510.7 v1.8"/>
<path d="M485.84,510.7 v1.8"/>
<path d="M530.30,510.7 v3.2"/>
<path d="M568.82,510.7 v3.2"/>
<path d="M607.33,510.7 v3.2"/>
<path d="M645.85,510.7 v3.2"/>
<path d="M511.04,510.7 v1.8"/>
<path d="M549.56,510.7 v1.8"/>
<path d="M588.07,510.7 v1.8"/>
<path d="M626.59,510.7 v1.8"/>
<path d="M41.7,33.20 h-3.2"/>
<path d="M41.7,64.20 h-3.2"/>
<path d="M41.7,95.20 h-3.2"/>
<path d="M41.7,126.30 h-3.2"/>
<path d="M41.7,156.90 h-3.2"/>
<path d="M41.7,187.70 h-3.2"/>
<path d="M41.7,218.50 h-3.2"/>
<path d="M41.7,249.60 h-3.2"/>
<path d="M41.7,277.80 h-3.2"/>
<path d="M41.7,309.60 h-3.2"/>
<path d="M41.7,341.40 h-3.2"/>
<path d="M41.7,373.20 h-3.2"/>
<path d="M41.7,389.80 h-3.2"/>
<path d="M41.7,420.80 h-3.2"/>
<path d="M41.7,451.90 h-3.2"/>
<path d="M41.7,483.00 h-3.2"/>
<path d="M41.7,17.68 h-1.8"/>
<path d="M41.7,48.72 h-1.8"/>
<path d="M41.7,79.75 h-1.8"/>
<path d="M41.7,110.78 h-1.8"/>
<path d="M41.7,141.45 h-1.8"/>
<path d="M41.7,172.35 h-1.8"/>
<path d="M41.7,203.25 h-1.8"/>
<path d="M41.7,234.15 h-1.8"/>
<path d="M41.7,293.70 h-1.8"/>
<path d="M41.7,325.50 h-1.8"/>
<path d="M41.7,357.30 h-1.8"/>
<path d="M41.7,405.33 h-1.8"/>
<path d="M41.7,436.40 h-1.8"/>
<path d="M41.7,467.47 h-1.8"/>
<path d="M41.7,498.53 h-1.8"/>
<path d="M663.5,389.80 h3.2"/>
<path d="M663.5,420.80 h3.2"/>
<path d="M663.5,451.90 h3.2"/>
<path d="M663.5,483.00 h3.2"/>
<path d="M663.5,405.33 h1.8"/>
<path d="M663.5,436.40 h1.8"/>
<path d="M663.5,467.47 h1.8"/>
<path d="M663.5,498.53 h1.8"/>
</g>
<g class="tk">
<text x="58.1" y="8" text-anchor="middle">320</text>
<text x="58.1" y="524.6" text-anchor="middle">320</text>
<text x="96.6" y="8" text-anchor="middle">640</text>
<text x="96.6" y="524.6" text-anchor="middle">640</text>
<text x="135.1" y="8" text-anchor="middle">960</text>
<text x="135.1" y="524.6" text-anchor="middle">960</text>
<text x="173.6" y="8" text-anchor="middle">1280</text>
<text x="173.6" y="524.6" text-anchor="middle">1280</text>
<text x="214.2" y="524.6" text-anchor="middle">780</text>
<text x="252.8" y="524.6" text-anchor="middle">1560</text>
<text x="291.4" y="524.6" text-anchor="middle">2340</text>
<text x="330.0" y="524.6" text-anchor="middle">3120</text>
<text x="352.7" y="524.6" text-anchor="middle">0</text>
<text x="390.7" y="524.6" text-anchor="middle">12</text>
<text x="428.8" y="524.6" text-anchor="middle">24</text>
<text x="466.8" y="524.6" text-anchor="middle">36</text>
<text x="504.9" y="524.6" text-anchor="middle">48</text>
<text x="530.3" y="524.6" text-anchor="middle">0</text>
<text x="568.8" y="524.6" text-anchor="middle">81</text>
<text x="607.3" y="524.6" text-anchor="middle">162</text>
<text x="645.8" y="524.6" text-anchor="middle">243</text>
<text x="36.3" y="36.8" text-anchor="end">1440</text>
<text x="36.3" y="67.8" text-anchor="end">960</text>
<text x="36.3" y="98.8" text-anchor="end">480</text>
<text x="36.3" y="129.9" text-anchor="end">0</text>
<text x="36.3" y="160.5" text-anchor="end">3120</text>
<text x="36.3" y="191.3" text-anchor="end">2340</text>
<text x="36.3" y="222.1" text-anchor="end">1560</text>
<text x="36.3" y="253.2" text-anchor="end">780</text>
<text x="36.3" y="281.4" text-anchor="end">45</text>
<text x="36.3" y="313.2" text-anchor="end">30</text>
<text x="36.3" y="345.0" text-anchor="end">15</text>
<text x="36.3" y="376.8" text-anchor="end">0</text>
<text x="36.3" y="393.4" text-anchor="end">288</text>
<text x="36.3" y="424.4" text-anchor="end">192</text>
<text x="36.3" y="455.5" text-anchor="end">96</text>
<text x="36.3" y="486.6" text-anchor="end">0</text>
<text x="668.8" y="393.4">288</text>
<text x="668.8" y="424.4">192</text>
<text x="668.8" y="455.5">96</text>
<text x="668.8" y="486.6">0</text>
</g>
<g class="ax">
<text x="119.7" y="544.2" text-anchor="middle">Distance</text>
<text transform="translate(9.6,77.5) rotate(-90)" text-anchor="middle">Distance</text>
<text x="275.1" y="544.2" text-anchor="middle">CPD</text>
<text transform="translate(9.6,201.4) rotate(-90)" text-anchor="middle">CPD</text>
<text x="430.4" y="544.2" text-anchor="middle">SD</text>
<text transform="translate(13.3,325.2) rotate(-90)" text-anchor="middle">SD</text>
<text x="585.9" y="544.2" text-anchor="middle">PPV</text>
<text transform="translate(15.2,448.9) rotate(-90)" text-anchor="middle">PPV</text>
</g>
</svg>
</body></html>
